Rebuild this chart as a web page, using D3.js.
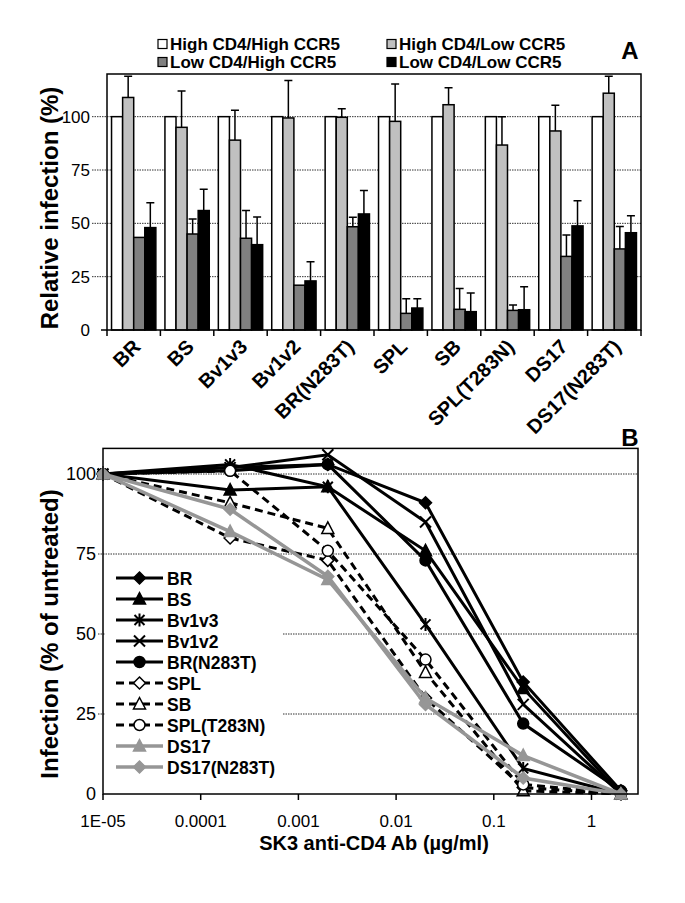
<!DOCTYPE html>
<html>
<head>
<meta charset="utf-8">
<script src="https://cdn.jsdelivr.net/npm/d3@7"></script>
<style>
body { margin: 0; background: #fff; }
svg { display: block; font-family: "Liberation Sans", Arial, sans-serif; }
</style>
</head>
<body>
<svg width="685" height="903"></svg>
<script>
// ---- panel A data (relative infection, %)
var strains = ["BR", "BS", "Bv1v3", "Bv1v2", "BR(N283T)", "SPL", "SB", "SPL(T283N)", "DS17", "DS17(N283T)"];
var cellTypes = ["High CD4/High CCR5", "High CD4/Low CCR5", "Low CD4/High CCR5", "Low CD4/Low CCR5"];
var highHigh = [100, 100, 100, 100, 100, 100, 100, 100, 100, 100];
var highLow = [109, 95, 89, 99.4, 99.7, 97.8, 105.6, 86.7, 93.3, 111];
var highLowErr = [10, 17, 14, 17.6, 4, 17.5, 8, 13.3, 12, 8];
var lowHigh = [43.4, 45, 43, 21, 48.4, 7.8, 9.7, 9.2, 34.5, 38];
var lowHighErr = [0, 7, 13, 0, 4.4, 6.9, 9.7, 2.5, 10, 10.5];
var lowLow = [48, 56, 40, 23, 54.4, 10.3, 8.6, 9.5, 48.8, 45.6];
var lowLowErr = [11.7, 10, 13, 9, 11, 4.4, 8.7, 10.8, 11.8, 8];
var ticksA = [0, 25, 50, 75, 100];

// ---- panel B data (infection, % of untreated)
var concentrations = [0.00001, 0.0002, 0.002, 0.02, 0.2, 2];
var curveNames = ["BR", "BS", "Bv1v3", "Bv1v2", "BR(N283T)", "SPL", "SB", "SPL(T283N)", "DS17", "DS17(N283T)"];
var brVals = [100, 102, 103, 91, 35, 1];
var bsVals = [100, 95, 96, 76, 33, 0];
var bv1v3Vals = [100, 103, 96, 53, 8, 0];
var bv1v2Vals = [100, 102, 106, 85, 28, 0];
var brN283TVals = [100, 101, 103, 73, 22, 1];
var splVals = [100, 80, 73, 30, 2, 0];
var sbVals = [100, 91, 83, 38, 1, 0];
var splT283NVals = [100, 101, 76, 42, 3, 0];
var ds17Vals = [100, 82, 67, 30, 12, 0];
var ds17N283TVals = [100, 89, 68, 28, 5, 0];
var ticksB = [0, 25, 50, 75, 100];
var xTickVals = [0.00001, 0.0001, 0.001, 0.01, 0.1, 1];
var xTickLabels = ["1E-05", "0.0001", "0.001", "0.01", "0.1", "1"];

var svg = d3.select("svg");
svg.append("rect").attr("width", 685).attr("height", 903).attr("fill", "#fff");

// =============== PANEL A ===============
var fills = ["#ffffff", "#c0c0c0", "#808080", "#000000"];
var barVals = [highHigh, highLow, lowHigh, lowLow];
var barErrs = [null, highLowErr, lowHighErr, lowLowErr];

var xA = d3.scaleBand().domain(strains).range([107, 641]).paddingInner(0.17).paddingOuter(0.085);
var xIn = d3.scaleBand().domain(cellTypes).range([0, xA.bandwidth()]);
var yA = d3.scaleLinear().domain([0, 120]).range([330, 74]);

var gA = svg.append("g");

gA.selectAll(".gridA")
	.data(ticksA.slice(1))
	.enter().append("line")
	.attr("x1", 92).attr("x2", 641)
	.attr("y1", function (d) { return yA(d); })
	.attr("y2", function (d) { return yA(d); })
	.attr("stroke", "#333")
	.attr("stroke-width", 1)
	.attr("stroke-dasharray", "1.5,1");

var rows = [];
strains.forEach(function (s, i) {
	cellTypes.forEach(function (c, j) {
		rows.push({ strain: s, type: c, k: j, v: barVals[j][i], e: barErrs[j] ? barErrs[j][i] : 0 });
	});
});

// error bars (upper only)
var errRows = rows.filter(function (d) { return d.e > 0; });
gA.selectAll(".err")
	.data(errRows)
	.enter().append("path")
	.attr("d", function (d) {
		var cx = xA(d.strain) + xIn(d.type) + xIn.bandwidth() / 2;
		var y1 = yA(d.v), y2 = yA(d.v + d.e);
		return "M" + cx + "," + y1 + "V" + y2 + "M" + (cx - 4) + "," + y2 + "H" + (cx + 4);
	})
	.attr("stroke", "#000")
	.attr("stroke-width", 1.5)
	.attr("fill", "none");

gA.selectAll(".bar")
	.data(rows)
	.enter().append("rect")
	.attr("x", function (d) { return xA(d.strain) + xIn(d.type); })
	.attr("y", function (d) { return yA(d.v); })
	.attr("width", xIn.bandwidth())
	.attr("height", function (d) { return yA(0) - yA(d.v); })
	.attr("fill", function (d) { return fills[d.k]; })
	.attr("stroke", "#000")
	.attr("stroke-width", 1.5);

gA.append("rect")
	.attr("x", 107).attr("y", yA(120))
	.attr("width", 534).attr("height", yA(0) - yA(120))
	.attr("fill", "none").attr("stroke", "#000").attr("stroke-width", 1.5);

gA.append("line").attr("x1", 101).attr("x2", 107).attr("y1", yA(0)).attr("y2", yA(0)).attr("stroke", "#000").attr("stroke-width", 1.5);

gA.selectAll(".ylabA")
	.data(ticksA)
	.enter().append("text")
	.attr("x", 90)
	.attr("y", function (d) { return yA(d); })
	.attr("dy", "0.35em")
	.attr("text-anchor", "end")
	.attr("font-size", 17)
	.text(function (d) { return d; });

// category separators
gA.selectAll(".xtickA")
	.data(d3.range(strains.length + 1))
	.enter().append("line")
	.attr("x1", function (i) { return 107 + i * xA.step(); })
	.attr("x2", function (i) { return 107 + i * xA.step(); })
	.attr("y1", yA(0)).attr("y2", yA(0) + 6)
	.attr("stroke", "#000").attr("stroke-width", 1.5);

gA.selectAll(".xlabA")
	.data(strains)
	.enter().append("text")
	.attr("transform", function (d) {
		return "translate(" + (xA(d) + xA.bandwidth() / 2 + 8) + ",348) rotate(-45)";
	})
	.attr("text-anchor", "end")
	.attr("font-size", 20)
	.attr("font-weight", "bold")
	.text(function (d) { return d; });

gA.append("text")
	.attr("transform", "translate(58,208) rotate(-90)")
	.attr("text-anchor", "middle")
	.attr("font-size", 24)
	.attr("font-weight", "bold")
	.text("Relative infection (%)");

// legend A
var legA = gA.selectAll(".legA")
	.data(cellTypes)
	.enter().append("g")
	.attr("transform", function (d, i) {
		return "translate(" + (i % 2 ? 387 : 158) + "," + (i < 2 ? 44 : 62) + ")";
	});
legA.append("rect")
	.attr("x", 0).attr("y", -4.5).attr("width", 9).attr("height", 9)
	.attr("fill", function (d, i) { return fills[i]; })
	.attr("stroke", "#000").attr("stroke-width", 1.2);
legA.append("text")
	.attr("x", 12).attr("y", 6)
	.attr("font-size", 17).attr("font-weight", "bold")
	.text(function (d) { return d; });

gA.append("text").attr("x", 630).attr("y", 59).attr("text-anchor", "middle")
	.attr("font-size", 24).attr("font-weight", "bold").text("A");

// =============== PANEL B ===============
var xB = d3.scaleLog().domain([1e-5, 1]).range([103, 591.5]);
var yB = d3.scaleLinear().domain([0, 108]).range([794, 448.4]);
var rightB = 638;

var curveVals = [brVals, bsVals, bv1v3Vals, bv1v2Vals, brN283TVals, splVals, sbVals, splT283NVals, ds17Vals, ds17N283TVals];
var markers = ["diamond", "triangle", "star", "x", "circle", "diamond", "triangle", "circle", "triangle", "diamond"];
var grey = "#969696";
var curves = curveNames.map(function (n, i) {
	return {
		name: n,
		values: curveVals[i],
		marker: markers[i],
		color: i >= 8 ? grey : "#000",
		dashed: i >= 5 && i <= 7,
		open: i >= 5 && i <= 7
	};
});

var gB = svg.append("g");

gB.selectAll(".gridB")
	.data(ticksB.slice(1))
	.enter().append("line")
	.attr("x1", 98).attr("x2", rightB)
	.attr("y1", function (d) { return yB(d); })
	.attr("y2", function (d) { return yB(d); })
	.attr("stroke", "#333")
	.attr("stroke-width", 1)
	.attr("stroke-dasharray", "1.5,1");

function markerPath(type) {
	if (type === "diamond") return "M0,-6L6,0L0,6L-6,0Z";
	if (type === "triangle") return "M0,-6.5L6,5L-6,5Z";
	if (type === "circle") return "M5.5,0A5.5,5.5 0 1,1 -5.5,0A5.5,5.5 0 1,1 5.5,0Z";
	if (type === "star") return "M-5,-5L5,5M5,-5L-5,5M0,-6.5L0,6.5";
	return "M-5.5,-5.5L5.5,5.5M5.5,-5.5L-5.5,5.5";
}

var line = d3.line()
	.x(function (d, i) { return xB(concentrations[i]); })
	.y(function (d) { return yB(d); });

var cg = gB.selectAll(".curve")
	.data(curves)
	.enter().append("g");

cg.append("path")
	.attr("d", function (d) { return line(d.values); })
	.attr("fill", "none")
	.attr("stroke", function (d) { return d.color; })
	.attr("stroke-width", function (d) { return d.color === grey ? 3.5 : 3; })
	.attr("stroke-dasharray", function (d) { return d.dashed ? "8,5" : null; });

cg.selectAll(".pt")
	.data(function (d) { return d.values.map(function (v, i) { return { c: d, v: v, i: i }; }); })
	.enter().append("path")
	.attr("transform", function (d) { return "translate(" + xB(concentrations[d.i]) + "," + yB(d.v) + ")"; })
	.attr("d", function (d) { return markerPath(d.c.marker); })
	.attr("fill", function (d) { return d.c.open ? "#fff" : d.c.color; })
	.attr("stroke", function (d) { return d.c.color; })
	.attr("stroke-width", function (d) { return (d.c.marker === "star" || d.c.marker === "x") ? 2 : 1.5; });

// frame
gB.append("rect")
	.attr("x", xB(1e-5)).attr("y", yB(108))
	.attr("width", rightB - xB(1e-5)).attr("height", yB(0) - yB(108))
	.attr("fill", "none").attr("stroke", "#000").attr("stroke-width", 1.5);

gB.selectAll(".ylabB")
	.data(ticksB)
	.enter().append("text")
	.attr("x", 96)
	.attr("y", function (d) { return yB(d); })
	.attr("dy", "0.35em")
	.attr("text-anchor", "end")
	.attr("font-size", 18)
	.text(function (d) { return d; });

gB.selectAll(".xtickB")
	.data(xTickVals)
	.enter().append("line")
	.attr("x1", function (d) { return xB(d); })
	.attr("x2", function (d) { return xB(d); })
	.attr("y1", yB(0)).attr("y2", yB(0) + 6)
	.attr("stroke", "#000").attr("stroke-width", 1.5);

gB.selectAll(".xlabB")
	.data(xTickVals)
	.enter().append("text")
	.attr("x", function (d) { return xB(d); })
	.attr("y", 827)
	.attr("text-anchor", "middle")
	.attr("font-size", 17)
	.text(function (d, i) { return xTickLabels[i]; });

gB.append("text")
	.attr("x", 374).attr("y", 850)
	.attr("text-anchor", "middle")
	.attr("font-size", 20)
	.attr("font-weight", "bold")
	.text("SK3 anti-CD4 Ab (µg/ml)");

gB.append("text")
	.attr("transform", "translate(58,634) rotate(-90)")
	.attr("text-anchor", "middle")
	.attr("font-size", 24)
	.attr("font-weight", "bold")
	.text("Infection (% of untreated)");

// legend B
gB.append("rect")
	.attr("x", 105).attr("y", 566).attr("width", 178).attr("height", 213)
	.attr("fill", "#fff");

var legB = gB.selectAll(".legB")
	.data(curves)
	.enter().append("g")
	.attr("transform", function (d, i) { return "translate(116," + (578 + i * 21) + ")"; });
legB.append("line")
	.attr("x1", 0).attr("x2", 47)
	.attr("stroke", function (d) { return d.color; })
	.attr("stroke-width", function (d) { return d.color === grey ? 3.5 : 3; })
	.attr("stroke-dasharray", function (d) { return d.dashed ? "8,5" : null; });
legB.append("path")
	.attr("transform", "translate(23.5,0)")
	.attr("d", function (d) { return markerPath(d.marker); })
	.attr("fill", function (d) { return d.open ? "#fff" : d.color; })
	.attr("stroke", function (d) { return d.color; })
	.attr("stroke-width", function (d) { return (d.marker === "star" || d.marker === "x") ? 2 : 1.5; });
legB.append("text")
	.attr("x", 51).attr("y", 6.5)
	.attr("font-size", 17.5).attr("font-weight", "bold")
	.text(function (d) { return d.name; });

gB.append("text").attr("x", 630).attr("y", 446).attr("text-anchor", "middle")
	.attr("font-size", 24).attr("font-weight", "bold").text("B");
</script>
</body>
</html>
